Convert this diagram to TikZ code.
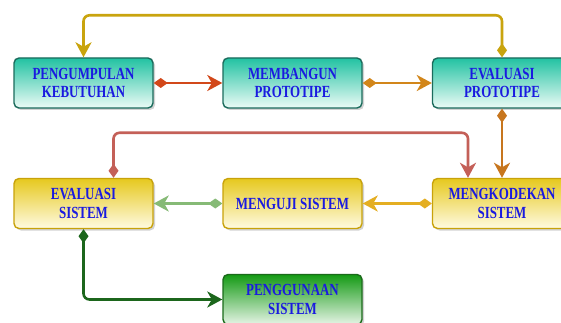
\documentclass[tikz,border=0pt]{standalone}
\usepackage{fontspec}
\usepackage{tikz}
\usepackage{xcolor}
\usetikzlibrary{arrows.meta,shadows}
\newfontfamily\boxfont[FakeStretch=0.76]{Liberation Serif}
\definecolor{txtblue}{HTML}{1A1AE0}
\definecolor{tealtop}{HTML}{22C2A2}
\definecolor{tealbot}{HTML}{ECFBF6}
\definecolor{tealline}{HTML}{1B6B5C}
\definecolor{yeltop}{HTML}{E6C81E}
\definecolor{yelbot}{HTML}{FFFBE2}
\definecolor{yelline}{HTML}{C8A20A}
\definecolor{grntop}{HTML}{149A14}
\definecolor{grnbot}{HTML}{E6F4E6}
\definecolor{grnline}{HTML}{1A6A1A}
\definecolor{cgold}{HTML}{C9A40E}
\definecolor{cred}{HTML}{D2481A}
\definecolor{corange}{HTML}{D2861A}
\definecolor{cbrown}{HTML}{C7761E}
\definecolor{csalmon}{HTML}{C46058}
\definecolor{camber}{HTML}{E4AE22}
\definecolor{clight}{HTML}{86BA76}
\definecolor{cdark}{HTML}{1C661C}

\begin{document}
\begin{tikzpicture}%
  [x=1pt,y=-1pt,
   link/.style={line width=2.6pt,rounded corners=6pt,
     {Diamond[length=14pt,width=10pt]}-{Stealth[length=15pt,width=16pt,inset=4.5pt]}}]
  \tikzstyle{box node}=[rectangle,rounded corners=5pt,line width=1.4pt,
    minimum width=139pt,minimum height=50pt,align=center,
    font=\boxfont\bfseries\fontsize{17}{18.5}\selectfont,text=txtblue,
    drop shadow={opacity=0.35,shadow xshift=2pt,shadow yshift=-2pt}]
  \tikzstyle{teal node}=[box node,draw=tealline,top color=tealtop,bottom color=tealbot]
  \tikzstyle{yel node}=[box node,draw=yelline,top color=yeltop,bottom color=yelbot]
  \tikzstyle{grn node}=[box node,draw=grnline,top color=grntop,bottom color=grnbot]
  \useasboundingbox (0,0) rectangle (561,323);
  \fill[white] (0,0) rectangle (561,323);
  % top row
  \node(pk)[teal node] at (83.5,83) {PENGUMPULAN\\KEBUTUHAN};
  \node(mp)[teal node] at (292.5,83) {MEMBANGUN\\PROTOTIPE};
  \node(evp)[teal node] at (502,83) {EVALUASI\\PROTOTIPE};
  % middle row
  \node(es)[yel node] at (83.5,203.5) {EVALUASI\\SISTEM};
  \node(mu)[yel node] at (292.5,203.5) {MENGUJI SISTEM};
  \node(mk)[yel node] at (502,203.5) {MENGKODEKAN\\SISTEM};
  % bottom
  \node(pg)[grn node] at (292.5,299.5) {PENGGUNAAN\\SISTEM};
  % connectors
  \draw[link,draw=cgold] (evp.north) -- ++(0,-42) -| (pk.north);
  \draw[link,draw=cred] (pk.east) -- (mp.west);
  \draw[link,draw=corange] (mp.east) -- (evp.west);
  \draw[link,draw=cbrown] (evp.south) -- (mk.north);
  \draw[link,draw=csalmon] ([xshift=30pt]es.north) -- ++(0,-45)
    -| ([xshift=-34pt]mk.north);
  \draw[link,draw=camber] (mk.west) -- (mu.east);
  \draw[link,draw=clight] (mu.west) -- (es.east);
  \draw[link,draw=cdark] (es.south) |- (pg.west);
\end{tikzpicture}
\end{document}
